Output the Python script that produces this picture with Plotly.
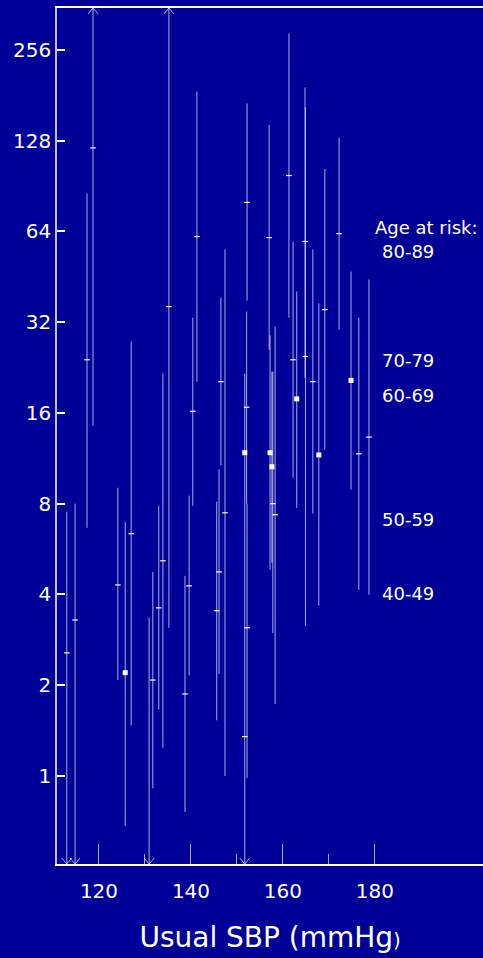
import math
import plotly.graph_objects as go

# ---------------- data ----------------
# Estimates drawn with a small horizontal tick
sbp = [113.0, 114.8, 117.4, 118.7, 124.1, 127.0, 130.9, 131.7, 133.0, 133.9, 135.2,
       138.7, 139.6, 140.4, 141.3, 145.6, 146.1, 146.5, 147.4, 152.2, 152.1, 152.2, 151.7,
       157.0, 157.8, 158.3, 161.3, 162.2, 164.8, 164.9, 166.5, 169.1, 172.2, 176.5, 178.7]
rr = [2.56, 3.29, 24.0, 121, 4.30, 6.36, 0.45, 2.08, 3.61, 5.17, 36.0,
      1.87, 4.27, 16.2, 61.5, 3.53, 4.75, 20.3, 7.46, 79.8, 16.7, 3.10, 1.35,
      61.0, 8.0, 7.35, 98.0, 24.0, 59.2, 24.6, 20.3, 35.2, 62.9, 11.7, 13.3]
rr_lo = [0.30, 0.30, 6.65, 14.5, 2.08, 1.47, 0.30, 0.91, 1.66, 1.24, 3.10,
         0.76, 2.15, 7.87, 20.3, 1.53, 2.18, 10.7, 1.00, 37.7, 8.0, 0.985, 0.30,
         25.9, 2.98, 1.73, 33.1, 9.75, 20.9, 3.15, 7.41, 12.1, 30.2, 4.14, 3.99]
rr_hi = [7.52, 8.0, 85.4, 600, 9.03, 27.6, 3.35, 4.75, 7.87, 21.6, 600,
         4.61, 8.50, 33.1, 186, 8.12, 10.4, 38.6, 55.7, 170, 34.7, 8.0, 6.41,
         144, 21.9, 30.9, 290, 59.2, 192, 165, 55.7, 103, 131, 33.1, 44.3]

# Estimates drawn with a small square
sbp_sq = [125.7, 151.7, 157.2, 157.6, 163.0, 167.8, 174.8]
rr_sq = [2.20, 11.8, 11.8, 10.6, 17.8, 11.6, 20.5]
rr_sq_lo = [0.683, 6.41, 4.83, 5.09, 7.75, 3.67, 8.9]
rr_sq_hi = [6.96, 21.6, 28.9, 21.9, 40.4, 36.9, 47.1]

y_tick_vals = [1, 2, 4, 8, 16, 32, 64, 128, 256]
x_tick_vals = [120, 140, 160, 180]
x_minor_vals = [130, 150, 170]

age_groups = ["80-89", "70-79", "60-69", "50-59", "40-49"]
age_label_rr = [55.0, 23.8, 18.3, 7.07, 4.02]
legend_title = "Age at risk:"

# ---------------- layout constants ----------------
W, H = 483, 958
ML, MR, MT, MB = 57, 0, 8, 94
X_RANGE = [110.87, 203.5]
Y_MIN, Y_MAX = 2 ** -0.97, 2 ** 8.46
BG = "#000099"
LINE = "rgba(255,255,255,0.66)"
FONT = "DejaVu Sans"

plot_w = W - ML - MR
plot_h = H - MT - MB
px_per_x = plot_w / (X_RANGE[1] - X_RANGE[0])
px_per_dbl = plot_h / (math.log2(Y_MAX) - math.log2(Y_MIN))

all_x = sbp + sbp_sq
all_lo = rr_lo + rr_sq_lo
all_hi = rr_hi + rr_sq_hi

# CI lines
lx, ly = [], []
for x, lo, hi in zip(all_x, all_lo, all_hi):
    lx += [x, x, None]
    ly += [lo, hi, None]

# arrows where the CI runs off the plotted range
ax_, ay_ = [], []
dx = 5 / px_per_x
fy = 2 ** (6 / px_per_dbl)
for x, lo, hi in zip(all_x, all_lo, all_hi):
    if hi > Y_MAX:
        ax_ += [x - dx, x, x + dx, None]
        ay_ += [Y_MAX / fy, Y_MAX, Y_MAX / fy, None]
    if lo < Y_MIN:
        ax_ += [x - dx, x, x + dx, None]
        ay_ += [Y_MIN * fy, Y_MIN, Y_MIN * fy, None]

fig = go.Figure()
fig.add_trace(go.Scatter(x=lx, y=ly, mode="lines",
                         line=dict(color=LINE, width=1), hoverinfo="skip"))
fig.add_trace(go.Scatter(x=ax_, y=ay_, mode="lines", cliponaxis=False,
                         line=dict(color=LINE, width=1), hoverinfo="skip"))
fig.add_trace(go.Scatter(x=sbp, y=rr, mode="markers", cliponaxis=False,
                         marker=dict(symbol="line-ew", size=4,
                                     line=dict(width=1.2, color="white"))))
fig.add_trace(go.Scatter(x=sbp_sq, y=rr_sq, mode="markers",
                         marker=dict(symbol="square", size=5, color="white",
                                     line=dict(width=0))))

annotations = [dict(x=179.6, y=math.log10(65.9), xref="x", yref="y",
                    text=legend_title, showarrow=False, xanchor="left",
                    yanchor="middle", font=dict(size=18, color="white", family=FONT))]
for lab, yv in zip(age_groups, age_label_rr):
    annotations.append(dict(x=181.0, y=math.log10(yv), xref="x", yref="y",
                            text=lab, showarrow=False, xanchor="left",
                            yanchor="middle",
                            font=dict(size=18, color="white", family=FONT)))

fig.update_layout(
    width=W, height=H,
    margin=dict(l=ML, r=MR, t=MT, b=MB, pad=0),
    paper_bgcolor=BG, plot_bgcolor=BG,
    showlegend=False,
    font=dict(family=FONT, color="white"),
    annotations=annotations,
    xaxis=dict(range=X_RANGE, showgrid=False, zeroline=False,
               showline=True, linecolor="white", linewidth=1.5, mirror=True,
               tickvals=x_tick_vals, ticks="inside", ticklen=20, tickwidth=1,
               tickcolor=LINE, tickfont=dict(size=20, color="white", family=FONT),
               ticklabelstandoff=8,
               minor=dict(tickvals=x_minor_vals, ticks="inside", ticklen=10,
                          tickwidth=1, tickcolor=LINE, showgrid=False),
               title=dict(text="Usual SBP (mmHg<span style='font-size:19px'>)</span>",
                          font=dict(size=28, color="white", family=FONT), standoff=26),
               automargin=False),
    yaxis=dict(type="log", range=[math.log10(Y_MIN), math.log10(Y_MAX)],
               showgrid=False, zeroline=False,
               showline=True, linecolor="rgba(255,255,255,0.75)", linewidth=1.5,
               tickvals=y_tick_vals, ticktext=[str(v) for v in y_tick_vals],
               ticks="inside", ticklen=8, tickwidth=1.5, tickcolor="white",
               tickfont=dict(size=20, color="white", family=FONT),
               automargin=False),
)

fig.write_html("out.html",
               config={"displayModeBar": False},
               post_script="document.body.style.margin='0';"
                           "document.body.style.background='" + BG + "';")
